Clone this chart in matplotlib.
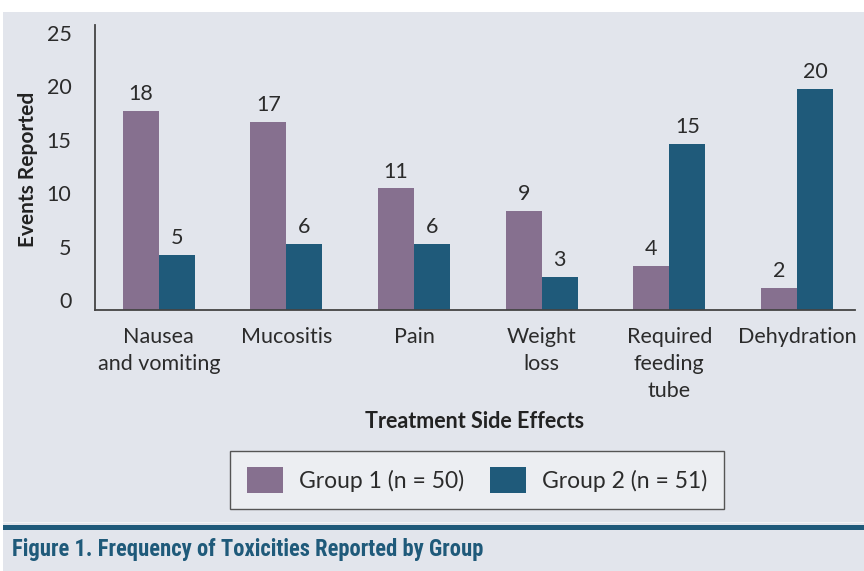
import matplotlib
matplotlib.use("Agg")
import matplotlib.pyplot as plt
from matplotlib.patches import Rectangle, Patch
from matplotlib import font_manager
from matplotlib.transforms import ScaledTranslation
import numpy as np

categories = ["Nausea\nand vomiting", "Mucositis", "Pain", "Weight\nloss",
              "Required\nfeeding\ntube", "Dehydration"]
group1 = [18, 17, 11, 9, 4, 2]
group2 = [5, 6, 6, 3, 15, 20]
yticks = [0, 5, 10, 15, 20, 25]
series_names = ["Group 1 (n = 50)", "Group 2 (n = 51)"]

C1 = "#86708F"
C2 = "#1F5A7A"
BG = "#E2E5EC"
TXT = "#2B2B2B"
FS = 15.5

plt.rcParams['font.family'] = ['Lato', 'DejaVu Sans']

W, H = 864, 571
fig = plt.figure(figsize=(W / 100, H / 100), dpi=100, facecolor="white")

# gray panel
fig.patches.append(Rectangle((3 / W, 0), 1 - 3 / W, 1 - 12 / H, transform=fig.transFigure,
                             facecolor=BG, edgecolor="none", zorder=-10))
# thin light line + blue rule
fig.patches.append(Rectangle((3 / W, 1 - 523 / H), 1 - 3 / W, 1.5 / H, transform=fig.transFigure,
                             facecolor="#F2F3F6", edgecolor="none", zorder=-9))
fig.patches.append(Rectangle((3 / W, 1 - 530 / H), 1 - 3 / W, 5.5 / H, transform=fig.transFigure,
                             facecolor=C2, edgecolor="none", zorder=-9))

left, right, bottom, top = 95 / W, 855 / W, 1 - 310 / H, 1 - 25 / H
ax = fig.add_axes([left, bottom, right - left, top - bottom])
ax.set_facecolor("none")
ax.set_zorder(1)

x = np.arange(len(categories))
bw = 0.282
b1 = ax.bar(x - bw / 2, group1, bw, color=C1, label=series_names[0], zorder=2)
b2 = ax.bar(x + bw / 2, group2, bw, color=C2, label=series_names[1], zorder=2)

for bars, vals in ((b1, group1), (b2, group2)):
    for rect, v in zip(bars, vals):
        ax.annotate(str(v), (rect.get_x() + rect.get_width() / 2, rect.get_height()),
                    xytext=(0, 5), textcoords="offset points", ha="center", va="bottom",
                    fontsize=FS, color=TXT)

ax.set_xlim(-0.5, 5.455)
ax.set_ylim(0, 25.8)
ax.set_yticks(yticks)
ax.set_yticklabels([str(t) for t in yticks], fontsize=FS, color=TXT)
ax.set_xticks(x)
ax.set_xticklabels(categories, fontsize=FS, color=TXT, linespacing=1.45)
ax.tick_params(axis="both", length=0)
ax.tick_params(axis="y", pad=17)
ax.tick_params(axis="x", pad=12)
for lab, t in zip(ax.get_yticklabels(), yticks):
    lab.set_va("center")
    off = (8 - 0.37 * t) / 100.0
    lab.set_transform(lab.get_transform() + ScaledTranslation(0, off, fig.dpi_scale_trans))
for s in ("top", "right"):
    ax.spines[s].set_visible(False)
for s in ("left", "bottom"):
    ax.spines[s].set_color("#444444")
    ax.spines[s].set_linewidth(1.3)

fig.text(28 / W, 1 - 169 / H, "Events Reported", rotation=90, ha="center", va="center",
         fontsize=15, fontweight="bold", color="#222222")
fig.text(475 / W, 1 - 422 / H, "Treatment Side Effects", ha="center", va="center",
         fontsize=15.5, fontweight="bold", color="#222222")

handles = [Patch(facecolor=C1, edgecolor="none"), Patch(facecolor=C2, edgecolor="none")]
leg = fig.legend(handles, series_names, loc="center", bbox_to_anchor=(477 / W, 1 - 480 / H),
                 ncol=2, fontsize=16.5, frameon=True, fancybox=False, framealpha=1,
                 facecolor="#ECEEF2", edgecolor="#555555", handlelength=1.57,
                 handleheight=1.35, handletextpad=0.7, columnspacing=1.13,
                 borderpad=0.72, labelcolor=TXT)
leg.get_frame().set_linewidth(1.0)

# pick a condensed bold family if one is installed
names = {f.name for f in font_manager.fontManager.ttflist}
cap_family = None
for cand in ["Roboto Condensed", "Open Sans Condensed", "Liberation Sans Narrow",
             "DejaVu Sans Condensed", "Noto Sans Condensed"]:
    if cand in names:
        cap_family = cand
        break

cap = "Figure 1. Frequency of Toxicities Reported by Group"
fam = [cap_family, "DejaVu Sans"] if cap_family else ["Lato", "DejaVu Sans"]
t = fig.text(12 / W, 1 - 556 / H, cap, ha="left", va="baseline", fontsize=20,
             fontweight="bold", color=C2, family=fam, fontstretch="condensed")
fig.canvas.draw()
wpx = t.get_window_extent().width
if wpx > 470:
    t.set_fontsize(20 * 470 / wpx)

fig.savefig("out.png", dpi=100, facecolor="white")
